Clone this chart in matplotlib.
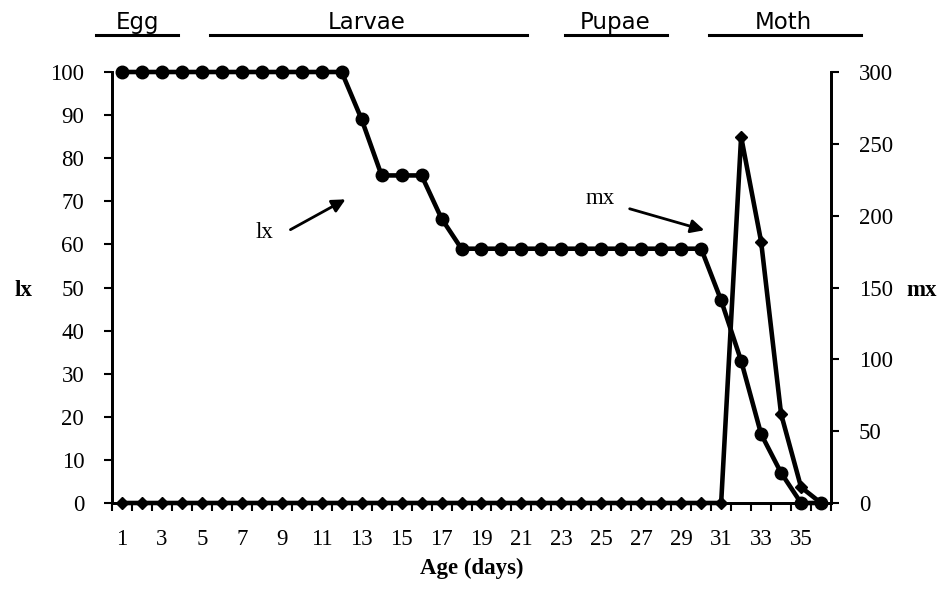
import matplotlib
matplotlib.use("Agg")
import matplotlib.pyplot as plt
import numpy as np

days = list(range(1, 37))
lx = [100]*12 + [89, 76, 76, 76, 66] + [59]*13 + [47, 33, 16, 7, 0, 0]
mx = [0]*31 + [255, 182, 62, 11, 0]
xtick_labels = [str(d) for d in range(1, 36, 2)]
stages = ["Egg", "Larvae", "Pupae", "Moth"]

serif = ["Liberation Serif", "DejaVu Serif"]
FS = 16.5
W, H = 951, 590
fig = plt.figure(figsize=(W/100, H/100), dpi=100)
ax = fig.add_axes([112/W, 1-503/H, (831-112)/W, 431/H])
ax2 = ax.twinx()

ax.plot(days, lx, color="black", lw=3.3, marker="o", ms=9, zorder=3, clip_on=False)
ax2.plot(days, mx, color="black", lw=3.3, marker="D", ms=6.5, zorder=3, clip_on=False)

ax.set_xlim(0.5, 36.5)
ax.set_ylim(0, 100)
ax2.set_ylim(0, 300)
ax.set_yticks(np.arange(0, 101, 10))
ax2.set_yticks(np.arange(0, 301, 50))

ax.set_xticks(np.arange(0.5, 37, 1))
ax.set_xticklabels([])
ax.set_xticks(np.arange(1, 36, 2), minor=True)
ax.set_xticklabels(xtick_labels, minor=True)
ax.tick_params(axis="x", which="major", direction="out", length=6, width=1.5)
ax.tick_params(axis="x", which="minor", length=0, pad=19)

for a in (ax, ax2):
    a.spines["top"].set_visible(False)
    for s in a.spines.values():
        s.set_linewidth(2.0)
ax.tick_params(axis="y", direction="out", length=6, width=1.5, pad=14)
ax2.tick_params(axis="y", direction="out", length=6, width=1.5, pad=14)

for lab in ax.get_yticklabels() + ax2.get_yticklabels() + ax.get_xticklabels(minor=True):
    lab.set_fontfamily(serif)
    lab.set_fontsize(FS)

ax.set_xlabel("Age (days)", fontfamily=serif, fontsize=FS, fontweight="bold", labelpad=5)
fig.text(24/W, 1-290/H, "lx", fontfamily=serif, fontsize=FS, fontweight="bold", ha="center", va="center")
fig.text(922/W, 1-290/H, "mx", fontfamily=serif, fontsize=FS, fontweight="bold", ha="center", va="center")

# annotations
fig.text(264/W, 1-232/H, "lx", fontfamily=serif, fontsize=FS, ha="center", va="center")
fig.text(600/W, 1-198/H, "mx", fontfamily=serif, fontsize=FS, ha="center", va="center")
ax.annotate("", xy=(348/W, 1-198/H), xytext=(288/W, 1-231/H), xycoords="figure fraction",
            textcoords="figure fraction",
            arrowprops=dict(arrowstyle="-|>", color="black", lw=2.0, mutation_scale=20))
ax.annotate("", xy=(707/W, 1-231/H), xytext=(627/W, 1-208/H), xycoords="figure fraction",
            textcoords="figure fraction",
            arrowprops=dict(arrowstyle="-|>", color="black", lw=2.0, mutation_scale=20))

# stage labels
stage_lines = [(96, 178), (210, 527), (565, 667), (709, 861)]
stage_centers = [137, 367, 615, 783]
for name, (x0, x1), xc in zip(stages, stage_lines, stage_centers):
    fig.add_artist(plt.Line2D([x0/W, x1/W], [1-35/H, 1-35/H], color="black", lw=2.2))
    fig.text(xc/W, 1-29/H, name, fontsize=16.5, ha="center", va="baseline", family="DejaVu Sans")

fig.savefig("out.png", dpi=100, facecolor="white")
